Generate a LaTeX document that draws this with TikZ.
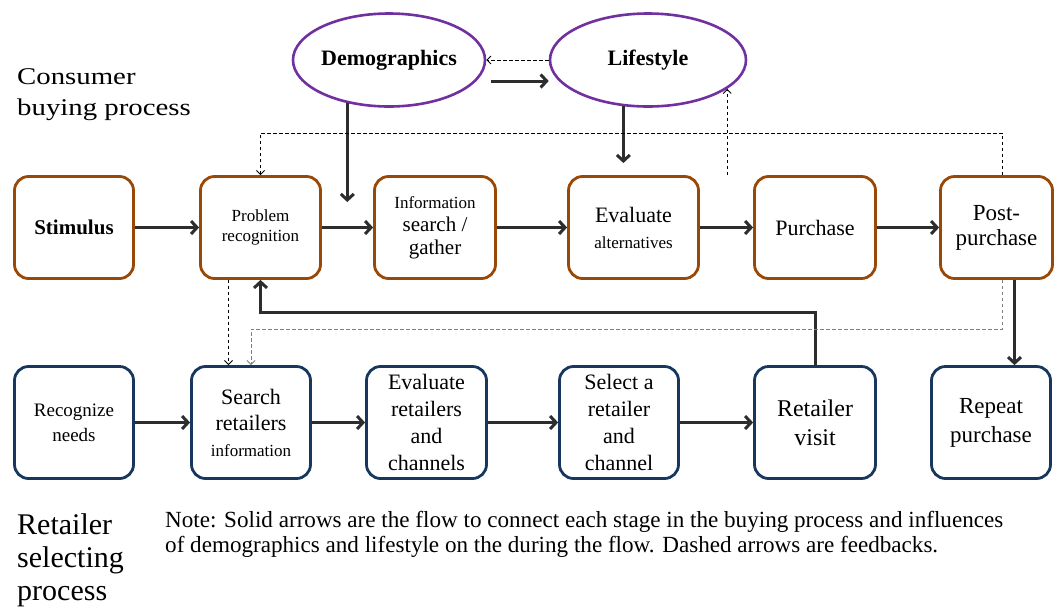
\documentclass[tikz,border=0pt]{standalone}
\usepackage{fontspec}
\setmainfont{Liberation Serif}
\usetikzlibrary{arrows.meta,calc,shapes.geometric}

\definecolor{boxbrown}{RGB}{152,72,7}
\definecolor{boxblue}{RGB}{23,55,94}
\definecolor{ovalpurple}{RGB}{112,48,160}
\definecolor{flowgray}{RGB}{45,45,45}

\newcommand\fsz[2]{\fontsize{#1}{#2}\selectfont}

\tikzset{
  stagebox/.style={rectangle, rounded corners=14pt, line width=2.8pt, fill=white,
    inner sep=2pt, align=center, font=\fsz{22}{26}},
  buybox/.style={stagebox, draw=boxbrown, minimum height=102pt},
  retbox/.style={stagebox, draw=boxblue, minimum height=112pt},
  factor/.style={ellipse, draw=ovalpurple, line width=2.6pt, fill=white,
    minimum height=93pt, inner sep=0pt, font=\bfseries\fsz{22}{26}},
  flow/.style={draw=flowgray, line width=3pt, -{Straight Barb[length=6pt,width=13pt]}},
  fback/.style={draw=black, line width=0.9pt, dash pattern=on 3.5pt off 2.5pt,
    -{Straight Barb[length=4pt,width=8pt]}},
}

\begin{document}
\begin{tikzpicture}[x=1pt,y=-1pt]
\useasboundingbox (0,0) rectangle (1057,606);

% side labels and note
\node[anchor=north west, align=left, inner sep=0pt, font=\fsz{24}{31}] (cbp) at (17,68)
  {\scalebox{1.2}[1]{Consumer}\\\scalebox{1.2}[1]{buying process}};
\node[anchor=north west, align=left, inner sep=0pt, font=\fsz{30}{33}] (rsp) at (17,513)
  {Retailer\\selecting\\process};
\node[anchor=north west, inner sep=0pt] (note) at (165,510)
  {\resizebox{838pt}{!}{\fsz{22.5}{24}\begin{tabular}{@{}l@{}}
  Note: Solid arrows are the flow to connect each stage in the buying process and influences\\
  of demographics and lifestyle on the during the flow. Dashed arrows are feedbacks.
  \end{tabular}}};

% influencing factors
\node[factor, minimum width=192pt] (dem) at (389,60) {Demographics};
\node[factor, minimum width=196pt] (life) at (648,60) {Lifestyle};

% consumer buying process
\node[buybox, minimum width=119pt, font=\bfseries\fsz{21}{25}] (stim) at (74,227.5) {Stimulus};
\node[buybox, minimum width=120pt, font=\fsz{17}{20}] (prob) at (260.5,227.5) {Problem\\recognition};
\node[buybox, minimum width=121pt, font=\fsz{21}{23}] (info) at (435,227.5) {{\fsz{17}{20}Information}\\search /\\gather};
\node[buybox, minimum width=130pt] (eval) at (633.5,227.5) {Evaluate\\{\fsz{17}{20}alternatives}};
\node[buybox, minimum width=121pt] (purch) at (815,227.5) {Purchase};
\node[buybox, minimum width=112pt, font=\fsz{23}{25}] (post) at (996.5,227.5) {Post-\\purchase};

% retailer selecting process
\node[retbox, minimum width=119pt, font=\fsz{19}{25}] (need) at (74,422.5) {Recognize\\needs};
\node[retbox, minimum width=119pt, font=\fsz{22}{26}] (srch) at (251,422.5) {Search\\retailers\\{\fsz{17}{20}information}};
\node[retbox, minimum width=120pt, font=\fsz{22}{27}] (evr) at (426.5,422.5) {Evaluate\\retailers\\and\\channels};
\node[retbox, minimum width=119pt, font=\fsz{22}{27}] (sel) at (619,422.5) {Select a\\retailer\\and\\channel};
\node[retbox, minimum width=121pt, font=\fsz{24}{29}] (visit) at (815,422.5) {Retailer\\visit};
\node[retbox, minimum width=119pt, font=\fsz{23}{29}] (rep) at (991,422.5) {Repeat\\purchase};

% free ends of connectors
\coordinate (dtip) at (347,202);
\coordinate (ltip) at (623,163);
\coordinate (fbtop) at (0,133);
\coordinate (lfoot) at (0,175);
\coordinate (fbmid) at (0,329);
\coordinate (fbret) at (0,312);
\coordinate (ds) at ($(dem.east)+(5,21)$);
\coordinate (ps) at ($(post.south)+(18,0)$);
\coordinate (pd) at ($(prob.south)+(-32,0)$);

% factor links
\draw[fback] (life.west) -- (dem.east);
\draw[flow] (ds) -- (life.west |- ds);
\draw[flow] (dem.226) -- (dem.226 |- dtip);
\draw[flow] (life.242) -- (life.242 |- ltip);

% main flows
\draw[flow] (stim) -- (prob);
\draw[flow] (prob) -- (info);
\draw[flow] (info) -- (eval);
\draw[flow] (eval) -- (purch);
\draw[flow] (purch) -- (post);
\draw[flow] (need) -- (srch);
\draw[flow] (srch) -- (evr);
\draw[flow] (evr) -- (sel);
\draw[flow] (sel) -- (visit);
\draw[flow] (ps) -- (ps |- rep.north);
\draw[flow] (visit.north) |- (prob.south |- fbret) -- (prob.south);

% feedbacks
\draw[fback] ($(post.north)+(6,0)$) |- (prob.north |- fbtop) -- (prob.north);
\draw[fback] (life.340 |- lfoot) -- (life.340);
\draw[fback, draw=gray] ($(post.south)+(6,0)$) |- (srch.north |- fbmid) -- (srch.north);
\draw[fback] (pd) -- (pd |- srch.north);
\end{tikzpicture}
\end{document}
